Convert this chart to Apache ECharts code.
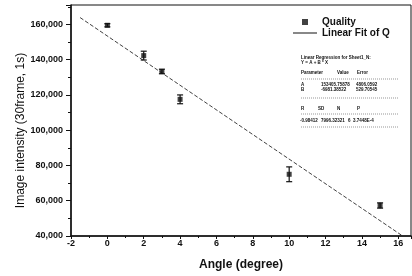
<!DOCTYPE html>
<html>
<head>
<meta charset="utf-8">
<script src="https://cdn.jsdelivr.net/npm/echarts@6/dist/echarts.min.js"></script>
<style>
  html, body { margin: 0; padding: 0; background: #fff; }
  #chart { width: 412px; height: 276px; }
</style>
</head>
<body>
<div id="chart"></div>
<script>
// measured points (angle, intensity, error)
var angles = [0, 2, 3, 4, 10, 15];
var intensity = [159500, 142300, 133300, 117500, 75000, 57300];
var errors = [900, 2500, 1300, 2500, 4200, 1500];

// linear fit line end points
var fitX = [-1.5, 16.2];
var fitY = [163880, 40300];

// regression table text
var regTitle = ['Linear Regression for Sheet1_N:', 'Y = A + B * X'];
var regHead = ['Parameter', 'Value', 'Error'];
var regRows = [
    ['A', '153405.75878', '4806.0592'],
    ['B', '-6981.38522', '529.70545']
];
var statHead = ['R', 'SD', 'N', 'P'];
var statRow = ['-0.98412', '7996.32321', '6', '3.7448E-4'];

var font = '"Liberation Sans", Arial, sans-serif';
var ink = '#111';

var pts = angles.map(function (a, i) { return [a, intensity[i]]; });
var bars = angles.map(function (a, i) { return [a, intensity[i] - errors[i], intensity[i] + errors[i]]; });
var fit = fitX.map(function (x, i) { return [x, fitY[i]]; });

// small text block
var graphics = [];
function txt(x, y, s) {
    graphics.push({
        type: 'text', left: x, top: y,
        style: { text: s, fill: ink, font: 'bold 4.5px ' + font }
    });
}
function rule(y) {
    graphics.push({
        type: 'line', shape: { x1: 301, y1: y, x2: 398, y2: y },
        style: { stroke: '#555', lineWidth: 0.6, lineDash: [1, 1] }
    });
}
txt(301, 55, regTitle[0]);
txt(301, 60, regTitle[1]);
txt(301, 70, regHead[0]); txt(337, 70, regHead[1]); txt(357, 70, regHead[2]);
rule(79);
regRows.forEach(function (r, i) {
    txt(301, 82 + i * 5, r[0]); txt(321, 82 + i * 5, r[1]); txt(356, 82 + i * 5, r[2]);
});
rule(98);
txt(301, 106, statHead[0]); txt(318, 106, statHead[1]); txt(337, 106, statHead[2]); txt(357, 106, statHead[3]);
rule(114);
txt(300, 118, statRow[0]); txt(321, 118, statRow[1]); txt(348, 118, statRow[2]); txt(353, 118, statRow[3]);
rule(127);

var myChart = echarts.init(document.getElementById('chart'), null, { renderer: 'canvas' });
myChart.setOption({
    animation: false,
    backgroundColor: '#fff',
    color: [ink],
    textStyle: { fontFamily: font },
    grid: {
        left: 71, right: 1, top: 5, bottom: 37,
        show: true, borderColor: ink, borderWidth: 1
    },
    legend: [
        {
            data: [{ name: 'Quality', icon: 'rect' }],
            left: 302, top: 17, padding: 0, itemWidth: 6, itemHeight: 6,
            textStyle: { fontFamily: font, fontWeight: 'bold', fontSize: 10, color: ink, padding: [0, 0, 0, 9] }
        },
        {
            data: [{ name: 'Linear Fit of Q', icon: 'path://M0,0h24v1h-24z' }],
            left: 293, top: 28, padding: 0, itemWidth: 24, itemHeight: 1,
            textStyle: { fontFamily: font, fontWeight: 'bold', fontSize: 10, color: ink }
        }
    ],
    xAxis: {
        type: 'value',
        min: -2, max: 16.7, interval: 2,
        name: 'Angle (degree)',
        nameLocation: 'middle', nameGap: 23, nameMoveOverlap: false,
        nameTextStyle: { fontWeight: 'bold', fontSize: 12, color: ink },
        axisLine: { onZero: false, lineStyle: { color: ink, width: 1.5 } },
        axisTick: { inside: false, length: 3, lineStyle: { color: ink } },
        minorTick: { show: true, splitNumber: 2, length: 2, lineStyle: { color: ink } },
        axisLabel: { margin: 3, fontSize: 9, fontWeight: 'bold', color: ink, showMaxLabel: false },
        splitLine: { show: false }
    },
    yAxis: {
        type: 'value',
        min: 40000, max: 171000, interval: 20000,
        name: 'Image intensity (30frame, 1s)',
        nameLocation: 'middle', nameGap: 44, nameMoveOverlap: false,
        nameTextStyle: { fontSize: 12, color: ink, padding: [0, 20, 0, 0] },
        axisLine: { onZero: false, lineStyle: { color: ink, width: 1.5 } },
        axisTick: { inside: false, length: 5, lineStyle: { color: ink } },
        minorTick: { show: true, splitNumber: 2, length: 3, lineStyle: { color: ink } },
        axisLabel: { margin: 8, fontSize: 9, fontWeight: 'bold', color: ink, showMaxLabel: false },
        splitLine: { show: false }
    },
    graphic: graphics,
    series: [
        {
            name: 'Linear Fit of Q',
            type: 'line',
            data: fit,
            symbol: 'none',
            itemStyle: { color: ink },
            lineStyle: { color: ink, width: 0.8, type: [4, 2] },
            z: 1
        },
        {
            name: 'error',
            type: 'custom',
            data: bars,
            renderItem: function (params, api) {
                var lo = api.coord([api.value(0), api.value(1)]);
                var hi = api.coord([api.value(0), api.value(2)]);
                var w = 3;
                var st = { stroke: ink, lineWidth: 1.2 };
                return {
                    type: 'group',
                    children: [
                        { type: 'line', shape: { x1: lo[0], y1: lo[1], x2: hi[0], y2: hi[1] }, style: st },
                        { type: 'line', shape: { x1: lo[0] - w, y1: lo[1], x2: lo[0] + w, y2: lo[1] }, style: st },
                        { type: 'line', shape: { x1: hi[0] - w, y1: hi[1], x2: hi[0] + w, y2: hi[1] }, style: st }
                    ]
                };
            },
            z: 2
        },
        {
            name: 'Quality',
            type: 'scatter',
            data: pts,
            symbol: 'rect',
            symbolSize: 5,
            itemStyle: { color: ink },
            z: 3
        }
    ]
});
</script>
</body>
</html>
